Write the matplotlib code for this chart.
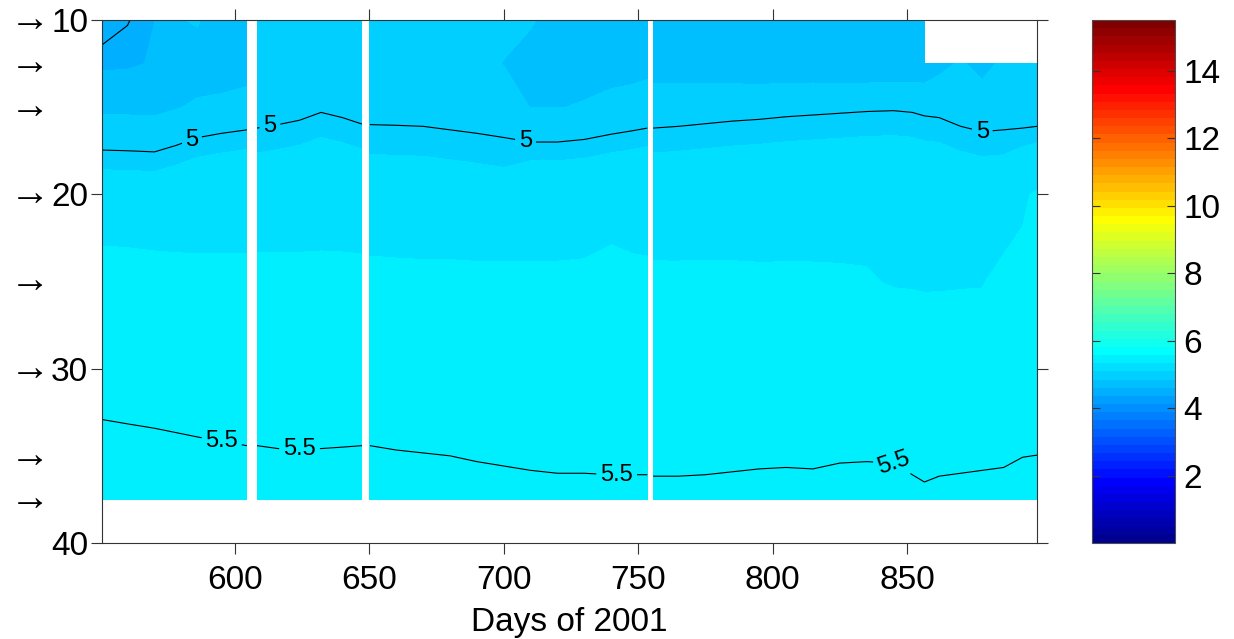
import numpy as np
import matplotlib
matplotlib.use("Agg")
import matplotlib.pyplot as plt
from matplotlib import transforms
from matplotlib.colors import ListedColormap, Normalize

plt.rcParams["font.family"] = ["Liberation Sans", "DejaVu Sans"]

nan = np.nan

# sample days (NaN columns are data gaps)
days = [550.5, 560, 570, 578, 586, 595, 604.4, 606.3,
        608.2, 616, 624, 632, 640, 647.2, 648.7,
        650.2, 660, 670, 680, 690, 700, 710, 720, 730, 740, 748, 753.4, 754.5,
        755.6, 765, 775, 785, 795, 805, 815, 825, 835, 845, 852, 856.5,
        862, 870, 878, 886, 893, 898.4]

# instrument depths (m)
depths = [10, 12.5, 15, 20, 25, 30, 35, 37.5]

t10 = [4.42, 4.49, 4.60, 4.83, 4.86, 4.72, 4.74, nan,
       4.90, 4.92, 4.93, 4.97, 4.93, 4.90, nan,
       4.90, 4.90, 4.91, 4.90, 4.89, 4.88, 4.86, 4.78, 4.78, 4.78, 4.79, 4.79, nan,
       4.76, 4.76, 4.76, 4.75, 4.75, 4.75, 4.75, 4.74, 4.74, 4.74, 4.75, 4.75,
       nan, nan, nan, nan, nan, nan]
t12 = [4.56, 4.57, 4.62, 4.76, 4.76, 4.75, 4.78, nan,
       4.90, 4.91, 4.92, 4.95, 4.91, 4.89, nan,
       4.90, 4.90, 4.90, 4.89, 4.88, 4.84, 4.78, 4.79, 4.80, 4.80, 4.80, 4.81, nan,
       4.77, 4.77, 4.76, 4.75, 4.74, 4.74, 4.74, 4.73, 4.73, 4.73, 4.74, 4.74,
       4.80, 4.86, 4.80, 4.87, 4.88, 4.88]
t15 = [4.813, 4.810, 4.805, 4.833, 4.867, 4.886, 4.901, nan,
       4.928, 4.940, 4.955, 4.982, 4.964, 4.942, nan,
       4.950, 4.948, 4.945, 4.935, 4.925, 4.913, 4.840, 4.840, 4.852, 4.876, 4.892, 4.904, nan,
       4.928, 4.934, 4.943, 4.952, 4.958, 4.967, 4.973, 4.979, 4.985, 4.988, 4.982, 4.970,
       4.964, 4.934, 4.916, 4.922, 4.904, 4.901]
t20 = [5.193, 5.190, 5.185, 5.213, 5.247, 5.266, 5.281, nan,
       5.228, 5.240, 5.255, 5.282, 5.264, 5.242, nan,
       5.200, 5.198, 5.195, 5.185, 5.175, 5.163, 5.240, 5.240, 5.252, 5.276, 5.292, 5.304, nan,
       5.228, 5.234, 5.243, 5.252, 5.258, 5.267, 5.273, 5.279, 5.285, 5.288, 5.282, 5.270,
       5.264, 5.234, 5.216, 5.222, 5.304, 5.351]
t25 = [5.421, 5.416, 5.405, 5.385, 5.366, 5.357, 5.351, nan,
       5.378, 5.372, 5.365, 5.353, 5.361, 5.368, nan,
       5.381, 5.376, 5.373, 5.376, 5.374, 5.377, 5.355, 5.355, 5.355, 5.366, 5.345, 5.338, nan,
       5.359, 5.357, 5.355, 5.352, 5.348, 5.346, 5.344, 5.341, 5.337, 5.320, 5.318, 5.315,
       5.315, 5.318, 5.320, 5.376, 5.369, 5.400]
t30 = [5.465, 5.462, 5.459, 5.456, 5.453, 5.450, 5.447, nan,
       5.447, 5.445, 5.445, 5.445, 5.446, 5.447, nan,
       5.447, 5.444, 5.442, 5.440, 5.436, 5.433, 5.430, 5.428, 5.428, 5.427, 5.427, 5.427, nan,
       5.426, 5.426, 5.427, 5.429, 5.431, 5.432, 5.431, 5.435, 5.436, 5.435, 5.427, 5.422,
       5.426, 5.428, 5.430, 5.432, 5.440, 5.440]
t35 = [5.525, 5.522, 5.519, 5.516, 5.513, 5.510, 5.507, nan,
       5.507, 5.505, 5.505, 5.505, 5.506, 5.507, nan,
       5.507, 5.504, 5.502, 5.500, 5.496, 5.493, 5.490, 5.488, 5.488, 5.487, 5.487, 5.487, nan,
       5.486, 5.486, 5.487, 5.489, 5.491, 5.492, 5.491, 5.495, 5.496, 5.495, 5.487, 5.482,
       5.486, 5.488, 5.490, 5.492, 5.499, 5.5005]
t375 = [5.555, 5.552, 5.549, 5.546, 5.543, 5.540, 5.537, nan,
        5.537, 5.535, 5.535, 5.535, 5.536, 5.537, nan,
        5.537, 5.534, 5.532, 5.530, 5.526, 5.523, 5.520, 5.518, 5.518, 5.517, 5.517, 5.517, nan,
        5.516, 5.516, 5.517, 5.519, 5.521, 5.522, 5.521, 5.525, 5.526, 5.525, 5.517, 5.512,
        5.516, 5.518, 5.520, 5.522, 5.529, 5.530]

plain_levels = [4.5]
label_levels = [5, 5.5]
label_spots = [(584, 16.9), (613, 16.1), (708, 17.0), (878, 16.4),
               (595, 34.2), (624, 34.6), (742, 36.05), (845, 35.4)]
x_ticks = [600, 650, 700, 750, 800, 850]
y_ticks = [10, 20, 30, 40]
cbar_ticks = [2, 4, 6, 8, 10, 12, 14]
cmax = 15.5


def matlab_jet(m=64):
    n = m // 4
    u = np.concatenate([np.arange(1, n + 1) / n, np.ones(n - 1), np.arange(n, 0, -1) / n])
    g = n // 2 + np.arange(len(u))
    r = g + n
    b = g - n
    rgb = np.zeros((m, 3))
    gk = g[g < m]
    rk = r[r < m]
    bk = b[b >= 0]
    rgb[rk, 0] = u[:len(rk)]
    rgb[gk, 1] = u[:len(gk)]
    rgb[bk, 2] = u[len(u) - len(bk):]
    return ListedColormap(rgb)


field = np.array([t10, t12, t15, t20, t25, t30, t35, t375])

fig = plt.figure(figsize=(12.34, 6.39), dpi=100)
ax = fig.add_axes([102 / 1234, 1 - 543 / 639, 935 / 1234, 523 / 639])
cax = fig.add_axes([1092 / 1234, 1 - 543 / 639, 83 / 1234, 523 / 639])

cmap = matlab_jet(64)
norm = Normalize(0, cmax)
cf = ax.contourf(days, depths, field, levels=np.linspace(0, cmax, 65), cmap=cmap,
                 norm=norm, corner_mask=False)
ax.contour(days, depths, field, levels=plain_levels, colors="k", linewidths=0.8,
           corner_mask=False)
cs = ax.contour(days, depths, field, levels=label_levels, colors="k", linewidths=0.8,
                corner_mask=False)
labels = ax.clabel(cs, manual=label_spots, fmt="%g", fontsize=17, inline_spacing=4)
# keep labels upright except the last 5.5 one, which follows the line
for t in labels[:-1]:
    t.set_rotation(0)

ax.set_xlim(days[0], days[-1])
ax.set_ylim(40, 10)
ax.set_xticks(x_ticks)
ax.set_yticks(y_ticks)
ax.tick_params(direction="out", length=8, width=0.8, top=True, right=True,
               labelsize=24, color="0.2")
ax.tick_params(axis="x", pad=8)
ax.tick_params(axis="y", pad=2)
for sp in ax.spines.values():
    sp.set_linewidth(0.8)
    sp.set_color("0.2")
ax.set_xlabel("Days of 2001", fontsize=24, labelpad=8)

# sensor markers in the left margin
trans = transforms.blended_transform_factory(fig.transFigure, ax.transData)
for d in depths:
    ax.text(0.008, d, "\u2192", transform=trans, ha="left", va="center",
            fontsize=29, clip_on=False)

cb = fig.colorbar(cf, cax=cax, ticks=cbar_ticks)
cax.tick_params(direction="in", left=True, right=True, length=6, width=0.8,
                labelsize=24, pad=6, color="0.2")
cb.outline.set_linewidth(0.8)
cb.outline.set_edgecolor("0.3")

fig.savefig("out.png", dpi=100)
